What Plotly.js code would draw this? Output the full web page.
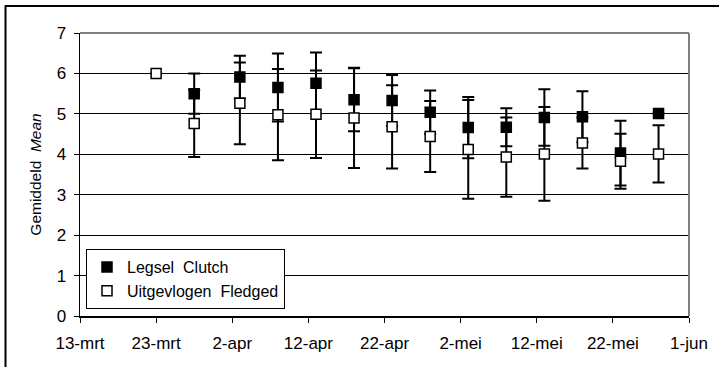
<!DOCTYPE html>
<html>
<head>
<meta charset="utf-8">
<script src="https://cdn.plot.ly/plotly-3.0.1.min.js"></script>
<style>
  html, body { margin: 0; padding: 0; background: #fff; }
  #chart { width: 719px; height: 367px; }
</style>
</head>
<body>
<div id="chart"></div>
<script>
// Observation dates (5-day periods)
const dates = ['2003-03-23', '2003-03-28', '2003-04-03', '2003-04-08', '2003-04-13', '2003-04-18', '2003-04-23',
               '2003-04-28', '2003-05-03', '2003-05-08', '2003-05-13', '2003-05-18', '2003-05-23', '2003-05-28'];

// Mean clutch size (Legsel) and its error
const clutchMean = [null, 5.50, 5.91, 5.65, 5.76, 5.35, 5.33, 5.04, 4.66, 4.67, 4.91, 4.93, 4.03, 5.01];
const clutchErr  = [null, 0.50, 0.53, 0.84, 0.76, 0.78, 0.63, 0.54, 0.76, 0.47, 0.70, 0.63, 0.80, 0];

// Mean number fledged (Uitgevlogen) and its error
const fledgedMean = [6.00, 4.76, 5.26, 4.98, 4.99, 4.90, 4.68, 4.44, 4.12, 3.93, 4.01, 4.28, 3.83, 4.01];
const fledgedErr  = [0, 0.83, 1.01, 1.13, 1.08, 1.24, 1.03, 0.88, 1.22, 0.98, 1.16, 0.63, 0.68, 0.71];

// Date axis ticks
const tickDates  = ['2003-03-13', '2003-03-23', '2003-04-02', '2003-04-12', '2003-04-22',
                    '2003-05-02', '2003-05-12', '2003-05-22', '2003-06-01'];
const tickLabels = ['13-mrt', '23-mrt', '2-apr', '12-apr', '22-apr', '2-mei', '12-mei', '22-mei', '1-jun'];

const FONT = 'Liberation Sans, Arial, sans-serif';

const errStyle = { type: 'data', visible: true, color: '#000', thickness: 2, width: 6 };

const traces = [
  {
    name: 'Legsel  Clutch',
    x: dates, y: clutchMean,
    type: 'scatter', mode: 'markers',
    marker: { symbol: 'square', size: 10, color: '#000', line: { color: '#000', width: 1.5 } },
    error_y: Object.assign({ array: clutchErr }, errStyle)
  },
  {
    name: 'Uitgevlogen  Fledged',
    x: dates, y: fledgedMean,
    type: 'scatter', mode: 'markers',
    marker: { symbol: 'square', size: 10, color: '#fff', line: { color: '#000', width: 1.5 } },
    error_y: Object.assign({ array: fledgedErr }, errStyle)
  }
];

const L = 80, R = 30, T = 32.5, B = 51;
const W = 719 - L - R, H = 367 - T - B;

const layout = {
  width: 719, height: 367,
  margin: { l: L, r: R, t: T, b: B, pad: 0 },
  paper_bgcolor: '#fff', plot_bgcolor: '#fff',
  font: { family: FONT, size: 17, color: '#000' },
  showlegend: true,
  legend: {
    x: 6 / W, y: (316 - 249) / H, xanchor: 'left', yanchor: 'top',
    bgcolor: '#fff', bordercolor: '#000', borderwidth: 1,
    font: { family: FONT, size: 16, color: '#000' },
    itemwidth: 30, tracegroupgap: 0
  },
  xaxis: {
    type: 'date',
    range: ['2003-03-13', '2003-06-01'],
    tickmode: 'array', tickvals: tickDates, ticktext: tickLabels,
    ticks: 'outside', ticklen: 5, tickwidth: 1, tickcolor: '#000',
    ticklabelstandoff: 6,
    showline: true, linecolor: '#000', linewidth: 1.5,
    showgrid: false, zeroline: false,
    tickfont: { family: FONT, size: 17, color: '#000' },
    fixedrange: true
  },
  yaxis: {
    range: [0, 7], dtick: 1, tick0: 0,
    ticks: 'outside', ticklen: 5, tickwidth: 1, tickcolor: '#000',
    ticklabelstandoff: 4,
    showline: true, linecolor: '#000', linewidth: 1.5,
    showgrid: true, gridcolor: '#000', gridwidth: 1,
    zeroline: false,
    tickfont: { family: FONT, size: 17, color: '#000' },
    title: { text: 'Gemiddeld  <i>Mean</i>', font: { family: FONT, size: 15.5, color: '#000' }, standoff: 11 },
    fixedrange: true
  },
  shapes: [
    // grey frame on top and right of the plot area
    { type: 'line', xref: 'paper', yref: 'paper', x0: 0, x1: 1, y0: 1, y1: 1, line: { color: '#808080', width: 2 } },
    { type: 'line', xref: 'paper', yref: 'paper', x0: 1, x1: 1, y0: 0, y1: 1, line: { color: '#808080', width: 2 } },
    // outer chart border: top and left edges
    { type: 'line', xref: 'paper', yref: 'paper',
      x0: (5 - L) / W, x1: (719 - L) / W, y0: (316 - 5.5) / H, y1: (316 - 5.5) / H,
      line: { color: '#000', width: 2 }, layer: 'below' },
    { type: 'line', xref: 'paper', yref: 'paper',
      x0: (5.5 - L) / W, x1: (5.5 - L) / W, y0: (316 - 5) / H, y1: (316 - 367) / H,
      line: { color: '#000', width: 2 }, layer: 'below' }
  ]
};

Plotly.newPlot('chart', traces, layout, { staticPlot: true, displayModeBar: false });
</script>
</body>
</html>
